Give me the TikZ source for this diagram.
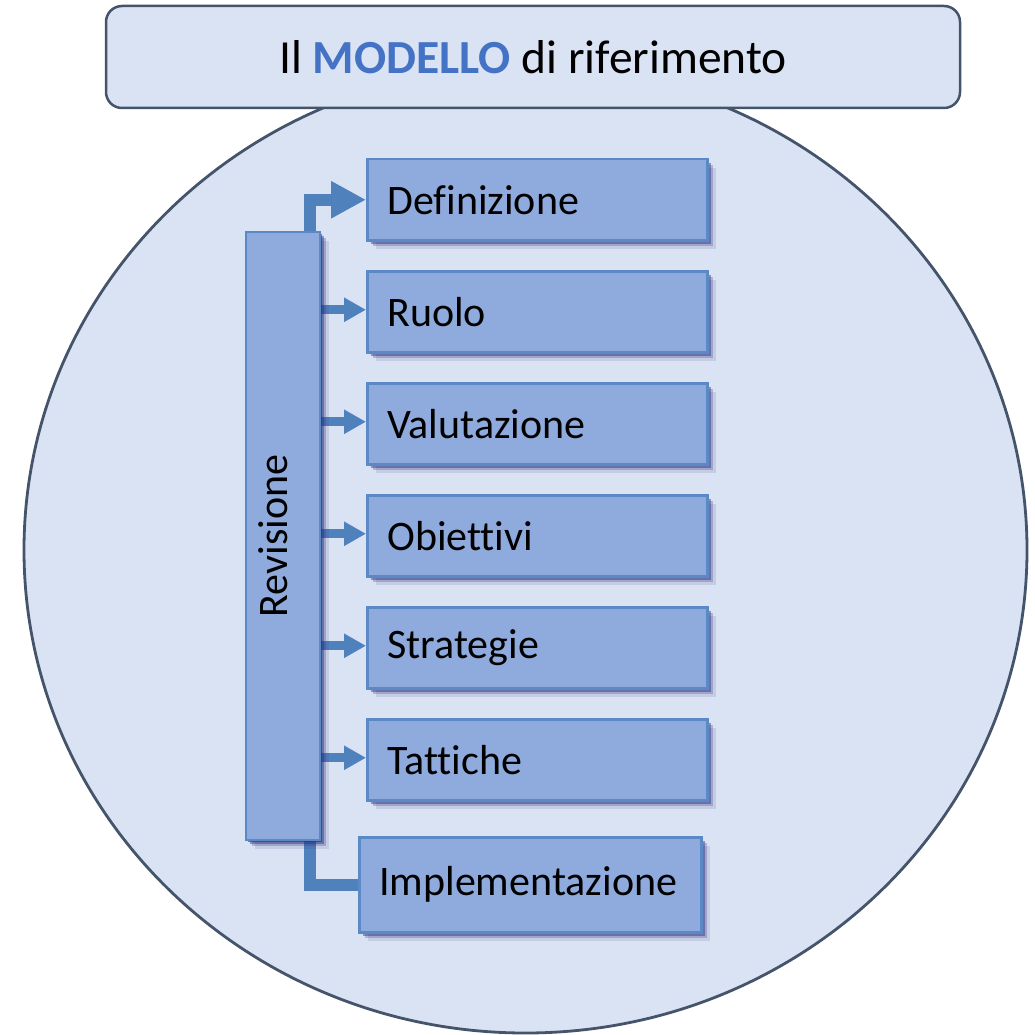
\documentclass[tikz,border=0pt]{standalone}
\usepackage{fontspec}
\setmainfont{Carlito}[Ligatures={NoCommon}]
\usetikzlibrary{shadows,arrows.meta}
\definecolor{bgblue}{HTML}{DAE3F3}
\definecolor{edgec}{HTML}{44546A}
\definecolor{boxfill}{HTML}{8FAADC}
\definecolor{boxedge}{HTML}{5A89C6}
\definecolor{arrowc}{HTML}{4F81BD}
\definecolor{shadowc}{HTML}{30307F}
\definecolor{modblue}{HTML}{4472C4}
\pgfdeclarelayer{bg}
\pgfdeclarelayer{mid}
\pgfsetlayers{bg,mid,main}
\begin{document}
\begin{tikzpicture}[x=1pt,y=-1pt,
  softshadow/.style={
    general shadow={fill=shadowc, opacity=0.60, shadow xshift=2pt, shadow yshift=-2pt},
    general shadow={fill=shadowc, opacity=0.45, shadow xshift=4pt, shadow yshift=-4pt},
    general shadow={fill=shadowc, opacity=0.25, shadow xshift=6pt, shadow yshift=-6pt},
    general shadow={fill=shadowc, opacity=0.12, shadow xshift=8.5pt, shadow yshift=-8.5pt}},
  stepbox/.style={draw=boxedge, fill=boxfill, line width=2.5pt, minimum height=81pt,
    text width=300pt, inner xsep=20pt, inner ysep=0pt, align=left, anchor=north west,
    font=\fontsize{42}{50}\selectfont, softshadow},
  revbox/.style={draw=boxedge, fill=boxfill, line width=2.5pt, minimum width=74pt,
    minimum height=608pt, inner sep=0pt, font=\fontsize{42}{50}\selectfont, softshadow},
  titlebox/.style={draw=edgec, fill=bgblue, line width=2.5pt, rounded corners=16pt,
    minimum width=854pt, minimum height=102pt, inner sep=0pt,
    font=\fontsize{47.5}{56}\selectfont},
  bigarrow/.style={draw=arrowc, line width=12pt, -{Triangle[length=35pt,width=35pt]}},
  smallarrow/.style={draw=arrowc, line width=9pt, -{Triangle[length=22pt,width=23pt]}},
  conn/.style={draw=arrowc, line width=11.5pt}
]
\useasboundingbox (0,0) rectangle (1035,1035);
\begin{pgfonlayer}{bg}
  \fill[white] (0,0) rectangle (1035,1035);
  \draw[edgec, fill=bgblue, line width=2.8pt] (525.5,550) ellipse [x radius=501.5pt, y radius=483pt];
\end{pgfonlayer}

\node[titlebox] (title) at (533,57) {Il \textbf{\color{modblue}MODELLO} di riferimento};

\node[revbox] (rev) at (283,536) {\rotatebox{90}{\rule[-20pt]{0pt}{34pt}Revisione}};

\node[stepbox] (def) at (366,158) {Definizione};
\node[stepbox] (ruo) at (366,270) {Ruolo};
\node[stepbox] (val) at (366,382) {Valutazione};
\node[stepbox] (obi) at (366,494) {Obiettivi};
\node[stepbox] (str) at (366,606) {Strategie};
\node[stepbox] (tat) at (366,718) {Tattiche};
\node[stepbox, minimum height=95pt, text width=302pt, inner xsep=20pt] (imp) at (358,836) {Implementazione};

\begin{pgfonlayer}{mid}
  \draw[bigarrow] ([xshift=27pt]rev.north) |- (def.west);
  \draw[conn] ([xshift=27pt]rev.south) |- (imp.west);
  \foreach \n in {ruo,val,obi,str,tat}{
    \draw[smallarrow] ([yshift=2pt]rev.east |- \n.west) -- ([yshift=2pt]\n.west);
  }
\end{pgfonlayer}
\end{tikzpicture}
\end{document}
